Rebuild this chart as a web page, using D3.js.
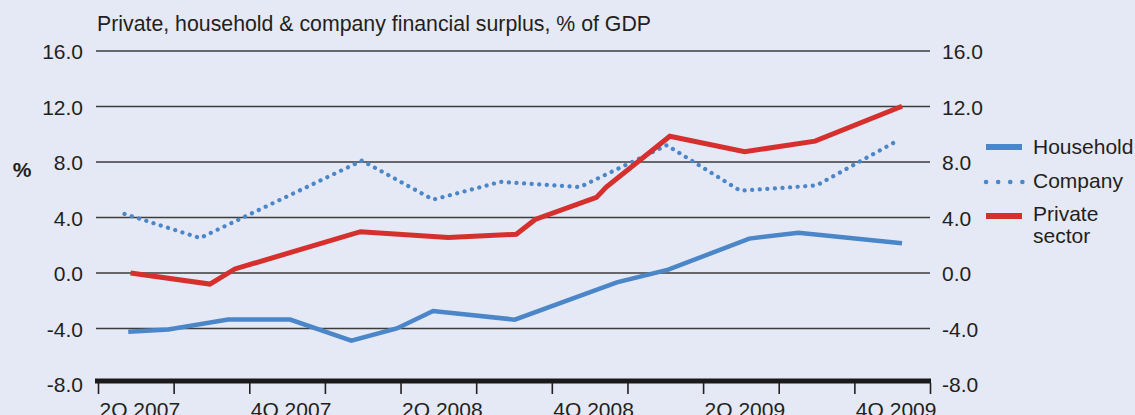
<!DOCTYPE html>
<html>
<head>
<meta charset="utf-8">
<script src="https://cdn.jsdelivr.net/npm/d3@7"></script>
<style>
    body { margin: 0; background: #e5e8f5; }
    text { font-family: "Liberation Sans", Arial, sans-serif; fill: #231f20; }
</style>
</head>
<body>
<div id="chart-area"></div>
<script>
const quarterLabels = ["2Q 2007", "3Q 2007", "4Q 2007", "1Q 2008", "2Q 2008", "3Q 2008",
    "4Q 2008", "1Q 2009", "2Q 2009", "3Q 2009", "4Q 2009"];
const yTicks = [-8, -4, 0, 4, 8, 12, 16];

// [position in quarters from start of 2Q 2007, % of GDP]
const household = [[0.40, -4.24], [0.93, -4.07], [1.72, -3.36], [2.54, -3.36], [3.35, -4.88],
    [3.95, -4.0], [4.43, -2.74], [5.51, -3.36], [6.86, -0.67], [7.54, 0.24], [8.61, 2.48],
    [9.26, 2.9], [10.63, 2.14]];
const company = [[0.35, 4.26], [1.35, 2.52], [3.49, 8.1], [4.43, 5.29], [5.32, 6.57],
    [6.37, 6.19], [7.52, 9.21], [8.49, 5.93], [9.50, 6.31], [10.58, 9.57]];
const privateSector = [[0.43, 0.0], [1.48, -0.8], [1.81, 0.29], [3.47, 2.98], [4.63, 2.55],
    [5.53, 2.79], [5.78, 3.86], [6.59, 5.45], [6.72, 6.19], [7.56, 9.86], [8.55, 8.74],
    [9.48, 9.5], [10.63, 12.02]];

const blue = "#4a86c8";
const red = "#d6302e";

const renderChart = () => {
    const w = 1135;
    const h = 415;
    const left = 98;
    const right = 930;
    const fmt = d => d.toFixed(1);

    const xScale = d3.scaleLinear()
                        .domain([0, quarterLabels.length])
                        .range([left, right]);

    const yScale = d3.scaleLinear()
                        .domain([-8, 16])
                        .range([384, 51]);

    const svg = d3.select("#chart-area")
        .append("svg")
        .attr("width", w)
        .attr("height", h);

    svg.append("text")
        .attr("x", 97)
        .attr("y", 31)
        .style("font-size", "21.3px")
        .text("Private, household & company financial surplus, % of GDP");

    svg.append("text")
        .attr("x", 22)
        .attr("y", 177)
        .attr("text-anchor", "middle")
        .style("font-size", "21px")
        .style("font-weight", "bold")
        .text("%");

    // gridlines
    svg.selectAll(".grid")
        .data(yTicks.filter(d => d > -8))
        .enter()
        .append("line")
        .attr("class", "grid")
        .attr("x1", left - 2)
        .attr("x2", right)
        .attr("y1", d => yScale(d))
        .attr("y2", d => yScale(d))
        .attr("stroke", "#3c3c3c")
        .attr("stroke-width", 1.6);

    const yAxisLeft = d3.axisLeft(yScale)
        .tickValues(yTicks)
        .tickFormat(fmt)
        .tickSize(0)
        .tickPadding(13);

    const yAxisRight = d3.axisRight(yScale)
        .tickValues(yTicks)
        .tickFormat(fmt)
        .tickSize(0)
        .tickPadding(12);

    [svg.append("g").attr("transform", "translate(" + (left - 2) + ",0)").call(yAxisLeft),
     svg.append("g").attr("transform", "translate(" + right + ",0)").call(yAxisRight)]
        .forEach(g => {
            g.select(".domain").remove();
            g.selectAll("text")
                .attr("dy", "0.36em")
                .style("font-size", "21px")
                .style("font-family", "Liberation Sans, Arial, sans-serif")
                .attr("fill", "#231f20");
        });

    // x axis
    const xAxis = d3.axisBottom(xScale)
        .tickValues(d3.range(0, quarterLabels.length + 1))
        .tickFormat(d => (d % 2 === 0 && d < quarterLabels.length) ? quarterLabels[d] : "")
        .tickSizeInner(11)
        .tickSizeOuter(0)
        .tickPadding(8);

    const xg = svg.append("g")
        .attr("transform", "translate(0," + (yScale(-8) - 1) + ")")
        .call(xAxis);

    xg.select(".domain").remove();
    xg.selectAll(".tick line")
        .attr("stroke", "#231f20")
        .attr("stroke-width", 1.6);
    xg.selectAll("text")
        .attr("text-anchor", "start")
        .attr("x", 1)
        .style("font-size", "21px")
        .style("font-family", "Liberation Sans, Arial, sans-serif")
        .attr("fill", "#231f20");

    svg.append("line")
        .attr("x1", left - 3)
        .attr("x2", right + 1)
        .attr("y1", yScale(-8) - 3)
        .attr("y2", yScale(-8) - 3)
        .attr("stroke", "#1a1a1a")
        .attr("stroke-width", 5);

    const line = d3.line()
        .x(d => xScale(d[0]))
        .y(d => yScale(d[1]));

    svg.append("path")
        .datum(company)
        .attr("d", line)
        .attr("fill", "none")
        .attr("stroke", blue)
        .attr("stroke-width", 4.2)
        .attr("stroke-linecap", "round")
        .attr("stroke-dasharray", "0.1,7.5");

    svg.append("path")
        .datum(household)
        .attr("d", line)
        .attr("fill", "none")
        .attr("stroke", blue)
        .attr("stroke-width", 4.5);

    svg.append("path")
        .datum(privateSector)
        .attr("d", line)
        .attr("fill", "none")
        .attr("stroke", red)
        .attr("stroke-width", 5);

    // legend
    const legend = svg.append("g");

    legend.append("line")
        .attr("x1", 986).attr("x2", 1022)
        .attr("y1", 147).attr("y2", 147)
        .attr("stroke", blue)
        .attr("stroke-width", 6);

    legend.append("line")
        .attr("x1", 986).attr("x2", 1023)
        .attr("y1", 182).attr("y2", 182)
        .attr("stroke", blue)
        .attr("stroke-width", 4.5)
        .attr("stroke-linecap", "round")
        .attr("stroke-dasharray", "0.1,12");

    legend.append("line")
        .attr("x1", 986).attr("x2", 1022)
        .attr("y1", 216).attr("y2", 216)
        .attr("stroke", red)
        .attr("stroke-width", 6);

    const legendText = [["Household", 154], ["Company", 188], ["Private", 221], ["sector", 243]];

    legend.selectAll("text")
        .data(legendText)
        .enter()
        .append("text")
        .attr("x", 1033)
        .attr("y", d => d[1])
        .style("font-size", "21px")
        .text(d => d[0]);
}

renderChart();
</script>
</body>
</html>
